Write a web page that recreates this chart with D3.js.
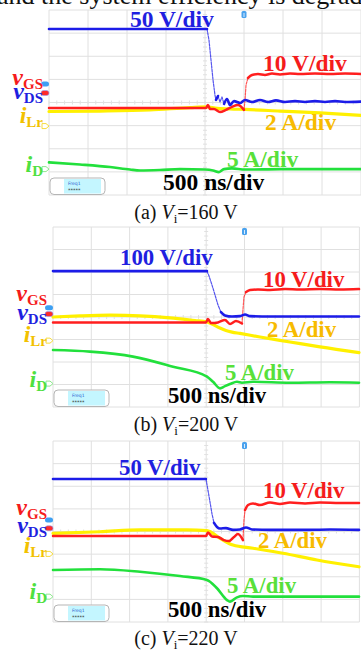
<!DOCTYPE html>
<html>
<head>
<meta charset="utf-8">
<script src="https://cdn.jsdelivr.net/npm/d3@7"></script>
<style>
html, body { margin: 0; padding: 0; background: #fff; }
svg { display: block; }
</style>
</head>
<body>
<svg id="fig" width="361" height="652"></svg>
<script>
// scope traces: [time in ns from left edge of screen, level in divisions (0 = centre line)]
const captionTags = ["(a)", "(b)", "(c)"];
const inputVoltages = [160, 200, 220];
const vdsScales = ["50 V/div", "100 V/div", "50 V/div"];
const vgsScale = "10 V/div", ilrScale = "2 A/div", idScale = "5 A/div", timeScale = "500 ns/div";
const bodyText = "and the system efficiency is degraded";

const vdsA = [[0,3.18],[2026,3.18],[2051,2.70],[2077,1.84],[2103,0.97],[2128,0.32],[2141,0.11],[2167,0.28],[2192,0.02],[2218,0.24],[2244,-0.06],[2282,0.15],[2321,-0.11],[2372,0.06],[2449,-0.02],[2513,0.11],[2603,0.02],[2705,0.11],[2808,0.02],[2910,0.09],[3026,0.02],[3154,0.06],[3282,0.02],[3410,0.06],[3538,0.02],[3667,0.06],[3795,0.02],[4000,0.04]];
const vgsA = [[0,-0.24],[2013,-0.24],[2038,-0.11],[2064,-0.28],[2115,-0.28],[2192,-0.41],[2269,-0.32],[2346,-0.19],[2423,-0.11],[2500,-0.32],[2513,0.11],[2526,0.76],[2551,1.06],[2603,1.19],[2679,1.23],[2769,1.19],[2859,1.25],[2962,1.21],[3090,1.25],[3218,1.23],[3410,1.25],[3603,1.23],[3795,1.25],[4000,1.23]];
const ilrA = [[0,-0.39],[654,-0.37],[1295,-0.32],[1808,-0.22],[2026,-0.19],[2128,-0.24],[2321,-0.28],[2513,-0.30],[2962,-0.37],[3474,-0.45],[4000,-0.56]];
const idA = [[0,-2.59],[397,-2.68],[782,-2.79],[1038,-2.90],[1167,-2.94],[1423,-2.92],[1679,-2.88],[2000,-2.90],[2103,-2.94],[2179,-3.01],[2244,-2.88],[2346,-2.85],[2513,-2.90],[2962,-2.88],[3474,-2.88],[4000,-2.88]];

const vdsB = [[0,2.04],[2010,2.04],[2037,1.82],[2076,1.42],[2115,0.98],[2154,0.53],[2193,0.22],[2245,0.07],[2337,0.02],[2441,0.04],[2507,0.11],[2572,0.04],[2833,0.02],[3225,0.02],[3616,0.02],[3995,0.02]];
const vgsB = [[0,-0.24],[1997,-0.24],[2023,-0.09],[2063,-0.27],[2154,-0.24],[2245,-0.13],[2311,-0.31],[2389,-0.18],[2467,-0.29],[2480,0.31],[2493,0.89],[2520,1.11],[2572,1.2],[2676,1.22],[2833,1.2],[3029,1.24],[3225,1.22],[3486,1.24],[3747,1.22],[3995,1.24]];
const ilrB = [[0,0],[352,0.05],[744,0.08],[1136,0.05],[1527,-0.04],[1854,-0.16],[2010,-0.22],[2076,-0.31],[2180,-0.49],[2258,-0.6],[2337,-0.67],[2441,-0.73],[2702,-0.89],[3094,-1.11],[3486,-1.33],[3995,-1.58]];
const idB = [[0,-1.47],[483,-1.54],[1044,-1.76],[1567,-2.21],[2010,-2.65],[2089,-2.88],[2180,-3.17],[2245,-3.07],[2311,-2.98],[2402,-2.88],[2467,-2.92],[2611,-2.88],[3094,-2.92],[3616,-2.9],[3995,-2.92]];

const vdsC = [[0,2.32],[1997,2.32],[2023,1.83],[2050,1.30],[2076,0.77],[2102,0.38],[2141,0.2],[2180,0.13],[2258,0.15],[2350,0.07],[2441,0.09],[2520,0.18],[2598,0.09],[2833,0.07],[3225,0.07],[3616,0.09],[3995,0.07]];
const vgsC = [[0,-0.2],[1997,-0.2],[2023,-0.04],[2076,-0.22],[2154,-0.24],[2232,-0.38],[2298,-0.42],[2363,-0.24],[2415,-0.11],[2480,-0.38],[2493,0.51],[2507,0.95],[2546,1.17],[2611,1.24],[2702,1.17],[2833,1.28],[2963,1.22],[3094,1.28],[3290,1.24],[3486,1.28],[3747,1.26],[3995,1.26]];
const ilrC = [[0,-0.08],[614,-0.01],[1136,0.07],[1749,0.07],[2010,0.04],[2180,-0.3],[2350,-0.6],[2611,-0.74],[3003,-0.96],[3446,-1.26],[3995,-1.56]];
const idC = [[0,-1.70],[614,-1.67],[1136,-1.78],[1658,-1.97],[2010,-2.14],[2141,-2.51],[2272,-3.03],[2311,-3.10],[2402,-2.91],[2480,-2.85],[2611,-2.88],[3225,-2.88],[3995,-2.88]];

const traces = [
  {vds: vdsA, vgs: vgsA, ilr: ilrA, id: idA},
  {vds: vdsB, vgs: vgsB, ilr: ilrB, id: idB},
  {vds: vdsC, vgs: vgsC, ilr: ilrC, id: idC}
];

// screen layout of the three captures (pixels), label anchors in [ns, div]
const layout = [
  {left: 49, top: 10, divW: 39, bottom: 195, cap: 219,
   lbl: {vds: [1038, 3.28], vgs: [2744, 1.36], ilr: [2769, -1.19], id: [2282, -2.78], t: [1462, -3.78]},
   rows: [0.76, 0.15, -0.89, -3.0], marks: [0.8, 0.41, -1.02, -2.88]},
  {left: 53, top: 227, divW: 38.3, bottom: 407, cap: 431,
   lbl: {vds: [875, 2.31], vgs: [2742, 1.35], ilr: [2794, -0.87], id: [2245, -2.8], t: [1501, -3.84]},
   rows: [0.71, -0.13, -1.11, -3.11], marks: [0.41, 0.13, -1.05, -2.96]},
  {left: 53, top: 441, divW: 38.3, bottom: 622, cap: 645,
   lbl: {vds: [862, 2.5], vgs: [2742, 1.49], ilr: [2676, -0.74], id: [2272, -2.73], t: [1501, -3.77]},
   rows: [0.73, -0.05, -0.96, -3.0], marks: [0.51, 0.14, -0.99, -2.88]}
];

const col = {
  vds: "#1c1ce8", vgs: "#ff1e1e", ilr: "#fff000", id: "#22e03c",
  vdsTxt: "#1f1fe0", vgsTxt: "#f51c1c", ilrTxt: "#f7bb00", idTxt: "#58e03a", ilrSym: "#f2c100", idSym: "#4ee040"
};
const serif = "'Liberation Serif','Times New Roman',serif";

const svg = d3.select("#fig");

// cut-off body text above the figure
svg.append("text").attr("x", -3).attr("y", 4)
  .attr("font-family", serif).attr("font-size", 26).attr("fill", "#111")
  .text(bodyText);

function drawTrace(g, pts, x, y, color, w) {
  const P = pts.map(d => [x(d[0]), y(d[1])]);
  // fast edges are drawn faint and thin like on the scope screen
  const runs = [];
  let cur = null;
  for (let i = 1; i < P.length; i++) {
    const dx = Math.abs(P[i][0] - P[i-1][0]), dy = Math.abs(P[i][1] - P[i-1][1]);
    const steep = dy > 4 && dy > 2.2 * dx;
    if (!cur || cur.steep !== steep) {
      cur = {steep: steep, pts: [P[i-1]]};
      runs.push(cur);
    }
    cur.pts.push(P[i]);
  }
  runs.forEach(r => {
    const line = d3.line().curve(r.steep ? d3.curveLinear : d3.curveMonotoneX);
    g.append("path").attr("d", line(r.pts))
      .attr("fill", "none").attr("stroke", color)
      .attr("stroke-width", r.steep ? 1.2 : w)
      .attr("stroke-opacity", r.steep ? 0.75 : 1)
      .attr("stroke-dasharray", r.steep ? "2.5,1.2" : null)
      .attr("stroke-linecap", "round").attr("stroke-linejoin", "round");
  });
}

layout.forEach((L, k) => {
  const x = d3.scaleLinear().domain([0, 4000]).range([L.left, L.left + 8 * L.divW]);
  const y = d3.scaleLinear().domain([-4, 4]).range([L.bottom, L.top]);
  const g = svg.append("g");
  const right = Math.min(361, x(4000));

  // graticule
  const grid = g.append("g").attr("stroke", "#e0e0e0").attr("stroke-width", 1);
  d3.range(0, 9).forEach(i => {
    const xv = x(i * 500);
    if (xv <= 361) grid.append("line").attr("x1", xv).attr("x2", xv).attr("y1", L.top).attr("y2", L.bottom);
    grid.append("line").attr("x1", L.left).attr("x2", right).attr("y1", y(i - 4)).attr("y2", y(i - 4));
  });
  // minor ticks on centre lines
  d3.range(0, 40).forEach(i => {
    const xv = x(i * 100);
    if (xv <= 361) grid.append("line").attr("x1", xv).attr("x2", xv).attr("y1", y(0) - 2).attr("y2", y(0) + 2);
    grid.append("line").attr("x1", x(2000) - 2).attr("x2", x(2000) + 2).attr("y1", y(-4 + i / 5)).attr("y2", y(-4 + i / 5));
  });

  const T = traces[k];
  drawTrace(g, T.id, x, y, col.id, 2.6);
  drawTrace(g, T.ilr, x, y, col.ilr, 3.2);
  drawTrace(g, T.vgs, x, y, col.vgs, 2.5);
  drawTrace(g, T.vds, x, y, col.vds, 2.6);

  // trigger marker
  g.append("rect").attr("x", x(2500) - 2.5).attr("y", L.top + 1).attr("width", 5).attr("height", 7)
    .attr("rx", 1.5).attr("fill", "#4aa2ee");
  g.append("line").attr("x1", x(2500)).attr("x2", x(2500)).attr("y1", L.top + 3).attr("y2", L.top + 7)
    .attr("stroke", "#fff").attr("stroke-width", 0.8);

  // channel ground markers
  g.append("rect").attr("x", L.left - 8).attr("y", y(L.marks[0]) - 2.5).attr("width", 8).attr("height", 5)
    .attr("rx", 2.5).attr("fill", "#3d9ff2");
  g.append("rect").attr("x", L.left - 8).attr("y", y(L.marks[1]) - 2.5).attr("width", 8).attr("height", 5)
    .attr("rx", 2.5).attr("fill", "#ff2a2a").attr("stroke", "#8aa0ff").attr("stroke-width", 0.6);
  [[L.marks[2], "#f5dc40"], [L.marks[3], "#8fe88f"]].forEach(m => {
    g.append("path")
      .attr("d", `M${L.left - 7},${y(m[0]) - 2.5}h4l3,2.5l-3,2.5h-4z`)
      .attr("fill", "#fff").attr("stroke", m[1]).attr("stroke-width", 1);
  });

  // measurement box
  g.append("rect").attr("x", L.left + 1).attr("y", L.bottom - 17).attr("width", 55).attr("height", 16.5)
    .attr("rx", 4).attr("fill", "#fff").attr("stroke", "#b5b5b5").attr("stroke-width", 1);
  g.append("rect").attr("x", L.left + 15).attr("y", L.bottom - 16).attr("width", 37).attr("height", 14.5)
    .attr("fill", "#c4f6ff");
  g.append("text").attr("x", L.left + 19).attr("y", L.bottom - 10).attr("font-family", "DejaVu Sans")
    .attr("font-size", 4.5).attr("fill", "#2a5fd0").text("Freq1");
  g.append("text").attr("x", L.left + 19).attr("y", L.bottom - 3.5).attr("font-family", "DejaVu Sans")
    .attr("font-size", 5).attr("fill", "#333").text("*****");

  // scale annotations
  const ann = [[vdsScales[k], L.lbl.vds, col.vdsTxt], [vgsScale, L.lbl.vgs, col.vgsTxt],
               [ilrScale, L.lbl.ilr, col.ilrTxt], [idScale, L.lbl.id, col.idTxt], [timeScale, L.lbl.t, "#000"]];
  ann.forEach(a => {
    g.append("text").attr("x", x(a[1][0])).attr("y", y(a[1][1]))
      .attr("font-family", serif).attr("font-weight", "bold").attr("font-size", k === 0 ? 23.5 : 22.8)
      .attr("fill", a[2]).text(a[0]);
  });

  // channel names
  const names = [["v", "GS", col.vgsTxt], ["v", "DS", col.vdsTxt], ["i", "Lr", col.ilrSym], ["i", "D", col.idSym]];
  names.forEach((n, j) => {
    const t = g.append("text").attr("x", L.left - 6).attr("y", y(L.rows[j])).attr("text-anchor", "end")
      .attr("font-family", serif).attr("fill", n[2]);
    t.append("tspan").attr("font-style", "italic").attr("font-weight", "bold").attr("font-size", 24).text(n[0]);
    t.append("tspan").attr("font-weight", "bold").attr("font-size", 15).attr("dy", 4).text(n[1]);
  });

  // caption
  const c = svg.append("text").attr("x", 186).attr("y", L.cap).attr("text-anchor", "middle")
    .attr("font-family", serif).attr("font-size", 20).attr("fill", "#111");
  c.append("tspan").text(captionTags[k] + " ");
  c.append("tspan").attr("font-style", "italic").text("V");
  c.append("tspan").attr("font-size", 13).attr("dy", 4).text("i");
  c.append("tspan").attr("dy", -4).text("=" + inputVoltages[k] + " V");
});
</script>
</body>
</html>
